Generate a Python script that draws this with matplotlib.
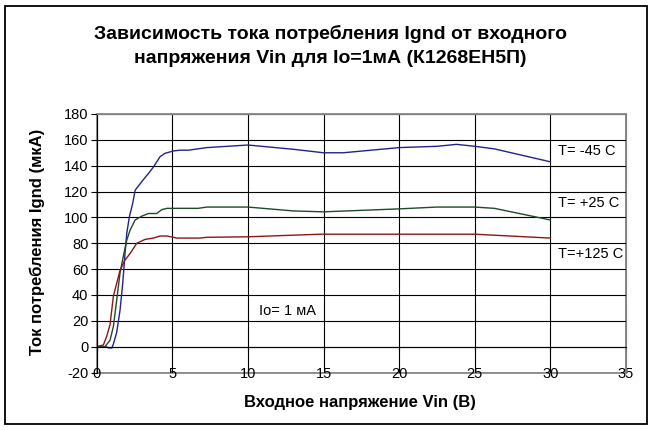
import matplotlib.pyplot as plt
from matplotlib.patches import Rectangle

plt.rcParams['font.family'] = ['Liberation Sans', 'DejaVu Sans']
plt.rcParams['axes.unicode_minus'] = False

# Vin (V) / Ignd (uA) for each temperature
vin_m45 = [0, 0.6, 0.8, 1.0, 1.1, 1.32, 1.54, 1.72, 1.87, 1.99, 2.16, 2.38, 2.54, 3.0, 3.42,
           3.75, 4.19, 4.52, 5.07, 5.5, 6.07, 7.28, 10, 13.0, 15, 16.3, 20, 22.5, 23.8, 25, 26.3, 30]
ignd_m45 = [0, 0, -1, -1, 2, 11, 28, 49, 72, 88, 100.5, 111, 121, 128, 134,
            139, 147, 149.6, 151.4, 152, 152, 154, 156, 152.7, 150, 150, 154, 155, 156.5, 155, 153, 143]

vin_p25 = [0, 0.55, 0.88, 1.1, 1.32, 1.54, 1.76, 1.99, 2.2, 2.54, 2.98, 3.42, 3.97, 4.3, 4.64,
           6.7, 7.28, 10, 13, 15, 20, 22.5, 25, 26.3, 30]
ignd_p25 = [0, 0, 5, 15.5, 36, 57, 70, 82.5, 90, 98, 101, 103, 103, 106, 107,
            107, 108, 108, 105, 104.3, 106.6, 108, 108, 107, 98]

vin_p125 = [0, 0.44, 0.66, 0.88, 1.1, 1.32, 1.54, 1.87, 2.2, 2.65, 3.2, 3.75, 4.19, 4.64, 5.3,
            6.8, 7.28, 10, 14.8, 15, 20, 25, 30]
ignd_p125 = [0, 1.3, 8, 17, 39, 49, 59, 67, 72, 80, 83, 84, 85.6, 85.6, 84,
             84, 84.6, 85, 87, 87, 87, 87, 84]

fig = plt.figure(figsize=(6.54, 4.30), dpi=100)
ax = fig.add_axes([0.1479, 0.1337, 0.8093, 0.6012])

ax.plot(vin_m45, ignd_m45, color='#23238C', lw=1.0)
ax.plot(vin_p25, ignd_p25, color='#1F4A28', lw=1.0)
ax.plot(vin_p125, ignd_p125, color='#8E1616', lw=1.0)

ax.set_xlim(0, 35)
ax.set_ylim(-20, 180)
ax.set_xticks(range(0, 36, 5))
ax.set_yticks(range(-20, 181, 20))
ax.grid(True, color='black', lw=0.8)
ax.set_axisbelow(True)

# x axis crosses at 0, labels sit on the bottom edge
ax.spines['bottom'].set_position(('data', 0))
ax.spines['bottom'].set_color('black')
ax.spines['left'].set_color('black')
for s in ['top', 'right']:
    ax.spines[s].set_color('#808080')
ax.add_patch(Rectangle((0, 0), 1, 1, transform=ax.transAxes, fill=False,
                       edgecolor='#808080', lw=1.2, clip_on=False, zorder=0.5))
ax.tick_params(axis='x', direction='out', length=3, pad=11.5, labelsize=10.5)
ax.tick_params(axis='y', direction='out', length=4, pad=2, labelsize=10.5)

ax.text(30.5, 151, 'T= -45 C', fontsize=10.5, va='center')
ax.text(30.5, 111, 'T= +25 C', fontsize=10.5, va='center')
ax.text(30.5, 71.5, 'T=+125 C', fontsize=10.5, va='center')
ax.text(10.7, 27.5, 'Io= 1 мА', fontsize=10.5, va='center')

fig.text(0.505, 0.893, 'Зависимость тока потребления Ignd от входного\nнапряжения Vin для Io=1мА (К1268ЕН5П)',
         ha='center', va='center', fontsize=14, fontweight='bold', linespacing=1.55)
fig.text(0.551, 0.064, 'Входное напряжение Vin (В)', ha='center', va='center',
         fontsize=12, fontweight='bold')
fig.text(0.0566, 0.437, 'Ток потребления Ignd (мкА)', ha='center', va='center',
         fontsize=12, fontweight='bold', rotation=90)

fig.patches.append(Rectangle((5 / 654, 6 / 430), 642 / 654, 418 / 430, transform=fig.transFigure,
                             fill=False, edgecolor='black', lw=1.3))

fig.savefig('out.png', dpi=100)
